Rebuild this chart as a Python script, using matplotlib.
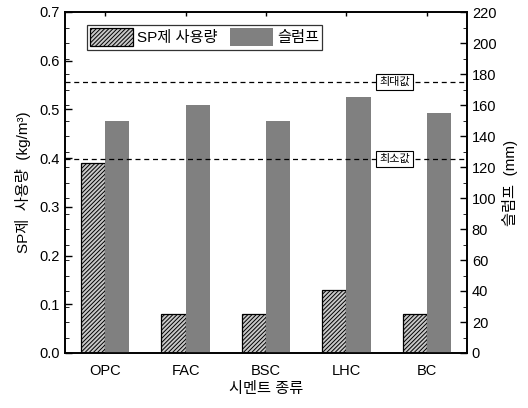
import matplotlib
matplotlib.use("Agg")
import matplotlib.pyplot as plt
from matplotlib.ticker import MultipleLocator, FormatStrFormatter
import numpy as np

plt.rcParams['font.family'] = ['Liberation Sans', 'Noto Sans CJK KR', 'DejaVu Sans']
plt.rcParams['hatch.linewidth'] = 0.7

categories = ["OPC", "FAC", "BSC", "LHC", "BC"]
sp_usage = [0.39, 0.08, 0.08, 0.13, 0.08]       # kg/m3
slump = [150, 160, 150, 165, 155]                # mm
slump_max = 175
slump_min = 125

fig = plt.figure(figsize=(5.28, 4.08), dpi=100)
ax = fig.add_axes([65/528, 1-353/408, 402/528, 341/408])
ax2 = ax.twinx()

x = np.arange(len(categories))
w = 0.3
ax.bar(x - w/2, sp_usage, width=w, color='#c8c8c8', edgecolor='black',
       hatch='////////', linewidth=0.9, label='SP제 사용량', zorder=2)
ax2.bar(x + w/2, slump, width=w, color='#808080', edgecolor='none',
        label='슬럼프', zorder=2)

ax.set_xlim(-0.5, len(categories) - 0.5)
ax.set_ylim(0, 0.7)
ax2.set_ylim(0, 220)

ax2.axhline(slump_max, color='black', linestyle=(0, (4, 3)), linewidth=0.9, zorder=3)
ax2.axhline(slump_min, color='black', linestyle=(0, (4, 3)), linewidth=0.9, zorder=3)
bbox = dict(boxstyle='square,pad=0.25', fc='white', ec='black', lw=0.8)
ax2.text(3.6, slump_max, '최대값', fontsize=8, ha='center', va='center', bbox=bbox, zorder=4)
ax2.text(3.6, slump_min, '최소값', fontsize=8, ha='center', va='center', bbox=bbox, zorder=4)

ax.set_xticks(x)
ax.set_xticklabels(categories, fontsize=11)
ax.yaxis.set_major_locator(MultipleLocator(0.1))
ax.yaxis.set_major_formatter(FormatStrFormatter('%.1f'))
ax.yaxis.set_minor_locator(MultipleLocator(0.7/22))
ax2.yaxis.set_major_locator(MultipleLocator(20))
ax2.yaxis.set_minor_locator(MultipleLocator(10))
ax.tick_params(axis='both', direction='in', labelsize=10.5, length=5, width=1)
ax.tick_params(axis='x', top=True, length=3, pad=8)
ax.tick_params(axis='y', which='minor', direction='in', length=3)
ax2.tick_params(axis='y', direction='in', labelsize=10.5, length=5, width=1)
ax2.tick_params(axis='y', which='minor', direction='in', length=3)

for sp in ax.spines.values():
    sp.set_linewidth(1.2)
for sp in ax2.spines.values():
    sp.set_linewidth(1.2)

ax.set_xlabel('시멘트 종류', fontsize=11, labelpad=3)
ax.set_ylabel('SP제  사용량  (kg/m³)', fontsize=11, labelpad=6)
ax2.set_ylabel('슬럼프  (mm)', fontsize=11)

h1, l1 = ax.get_legend_handles_labels()
h2, l2 = ax2.get_legend_handles_labels()
leg = ax2.legend(h1 + h2, l1 + l2, ncol=2, loc='upper left',
                 bbox_to_anchor=(0.035, 0.985), fontsize=11, frameon=True,
                 fancybox=False, edgecolor='black', handlelength=2.8,
                 handleheight=1.5, columnspacing=0.8, handletextpad=0.3,
                 borderpad=0.2)
leg.get_frame().set_linewidth(0.9)
leg.set_zorder(5)

fig.savefig('out.png', dpi=100)
